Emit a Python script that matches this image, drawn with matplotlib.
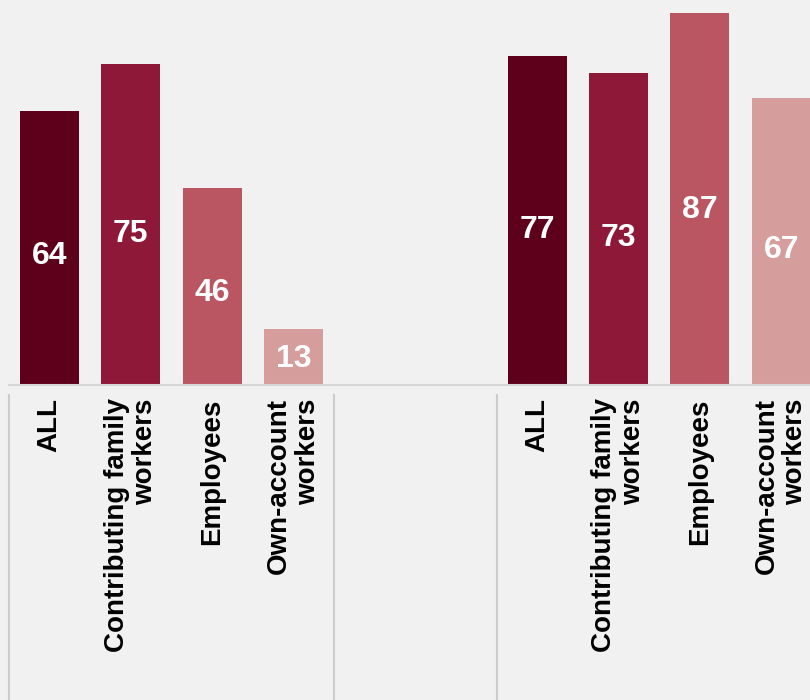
import numpy as np
import matplotlib.pyplot as plt
from matplotlib.transforms import blended_transform_factory

categories = ["ALL", "Contributing family\nworkers", "Employees",
              "Own-account\nworkers"]
group_a = [64, 75, 46, 13]
group_b = [77, 73, 87, 67]

colors = ["#5e001c", "#8d1837", "#b95662", "#d59d9c"]
bg = "#f1f1f1"


def main():
    plt.rcParams['font.family'] = ['Liberation Sans', 'DejaVu Sans']
    fig = plt.figure(figsize=(8.1, 7.0), dpi=100, facecolor=bg)
    ax = fig.add_axes([0, 0.45, 1, 0.55], facecolor=bg)

    pos = np.array([0, 1, 2, 3, 6, 7, 8, 9])
    values = group_a + group_b
    ax.bar(pos, values, width=0.726, color=colors * 2, zorder=2)

    # value labels sit a bit below the middle of each bar
    for x, v in zip(pos, values):
        ax.text(x, v * 0.47, str(v), ha="center", va="center", color="white",
                fontsize=23, fontweight="bold", zorder=3)

    ax.set_xlim(-0.609, 9.354)
    ax.set_ylim(0, 90)

    ax.set_xticks(pos)
    ax.set_xticklabels(categories * 2, rotation=90, fontsize=20,
                       fontweight="bold", va="top", ha="center",
                       multialignment="right", linespacing=1.12)
    ax.tick_params(axis="x", length=0, pad=9.5)
    ax.set_yticks([])

    for side in ["top", "left", "right"]:
        ax.spines[side].set_visible(False)
    ax.spines["bottom"].set_color("#d6d6d6")
    ax.spines["bottom"].set_linewidth(1.5)
    ax.spines["bottom"].set_bounds(-0.5, 9.5)

    # group separators below the baseline
    trans = blended_transform_factory(ax.transData, ax.transAxes)
    for sx in [-0.5, 3.5, 5.5, 9.5]:
        ax.plot([sx, sx], [-0.026, -0.82], color="#cccccc", lw=1.5,
                transform=trans, clip_on=False)

    fig.savefig("out.png", dpi=100, facecolor=bg)


if __name__ == "__main__":
    main()
